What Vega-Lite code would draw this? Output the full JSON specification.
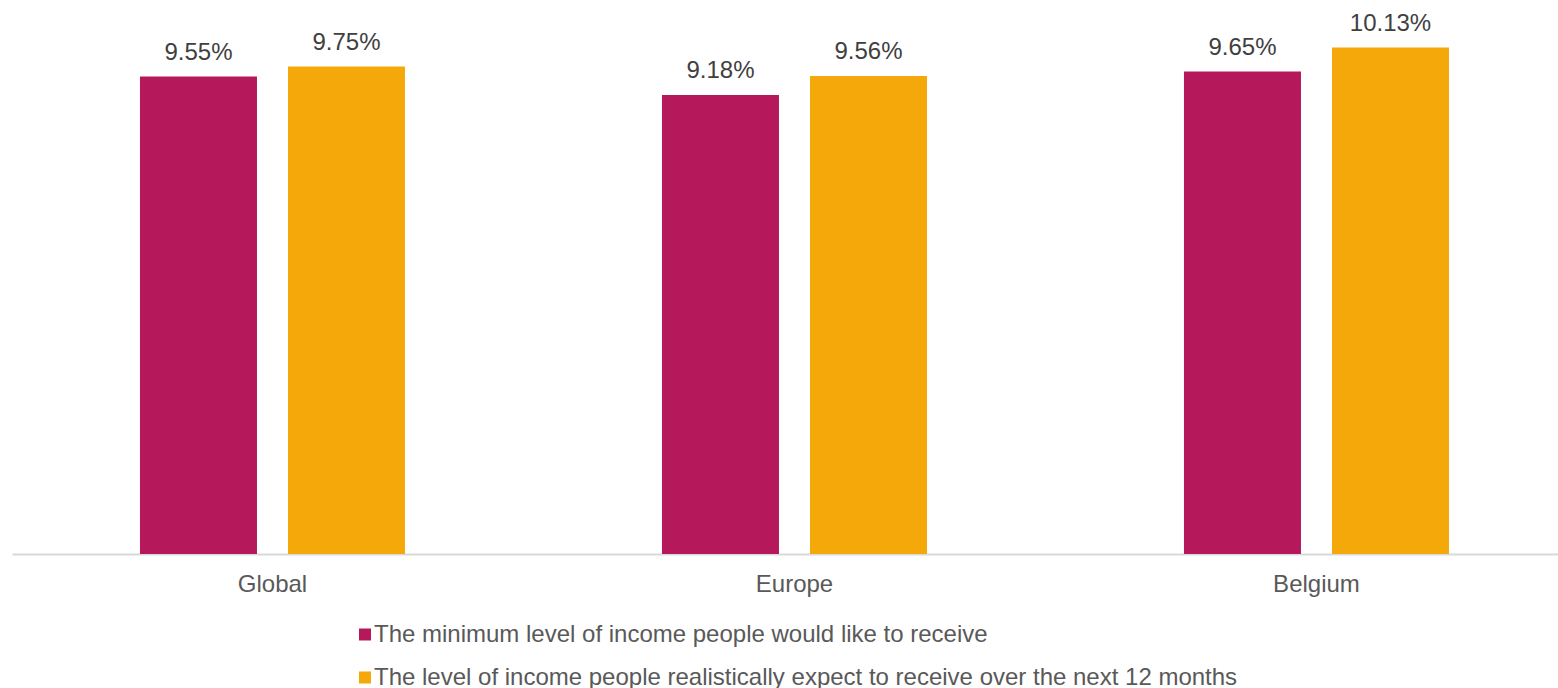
{
  "$schema": "https://vega.github.io/schema/vega-lite/v6.json",
  "width": 1546,
  "height": 550,
  "autosize": {"type": "none"},
  "padding": {"left": 12, "top": 4, "right": 0, "bottom": 134},
  "background": "white",
  "config": {"view": {"stroke": null}, "font": "Liberation Sans"},
  "data": {
    "values": [
      {"category": "Global", "series": "The minimum level of income people would like to receive", "value": 9.55, "label": "9.55%"},
      {"category": "Global", "series": "The level of income people realistically expect to receive over the next 12 months", "value": 9.75, "label": "9.75%"},
      {"category": "Europe", "series": "The minimum level of income people would like to receive", "value": 9.18, "label": "9.18%"},
      {"category": "Europe", "series": "The level of income people realistically expect to receive over the next 12 months", "value": 9.56, "label": "9.56%"},
      {"category": "Belgium", "series": "The minimum level of income people would like to receive", "value": 9.65, "label": "9.65%"},
      {"category": "Belgium", "series": "The level of income people realistically expect to receive over the next 12 months", "value": 10.13, "label": "10.13%"}
    ]
  },
  "encoding": {
    "x": {
      "field": "category", "type": "nominal",
      "sort": ["Global", "Europe", "Belgium"],
      "scale": {"paddingInner": 0.4923, "paddingOuter": 0.227, "align": 0.54},
      "axis": {"title": null, "labelAngle": 0, "domainColor": "#D9D9D9", "domainWidth": 2, "ticks": false, "tickSize": 0, "labelFontSize": 24, "labelColor": "#595959", "labelPadding": 37, "labelBaseline": "alphabetic"}
    },
    "xOffset": {
      "field": "series", "type": "nominal",
      "sort": ["The minimum level of income people would like to receive", "The level of income people realistically expect to receive over the next 12 months"],
      "scale": {"paddingInner": 0.2095, "paddingOuter": 0}
    },
    "y": {"field": "value", "type": "quantitative", "scale": {"domain": [0, 11]}, "axis": null}
  },
  "layer": [
    {
      "mark": {"type": "bar"},
      "encoding": {
        "color": {
          "field": "series", "type": "nominal",
          "scale": {
            "domain": ["The minimum level of income people would like to receive", "The level of income people realistically expect to receive over the next 12 months"],
            "range": ["#B5195B", "#F5A80A"]
          },
          "legend": {
            "title": null, "orient": "none", "legendX": 341, "legendY": 618.5, "direction": "vertical",
            "symbolType": "square", "symbolSize": 144, "symbolStrokeWidth": 0,
            "labelFontSize": 24, "labelColor": "#595959", "labelOffset": -3, "labelLimit": 2000,
            "rowPadding": 19, "padding": 0
          }
        }
      }
    },
    {
      "mark": {"type": "text", "baseline": "alphabetic", "dy": -17, "fontSize": 24, "color": "#404040"},
      "encoding": {"text": {"field": "label"}}
    }
  ]
}
